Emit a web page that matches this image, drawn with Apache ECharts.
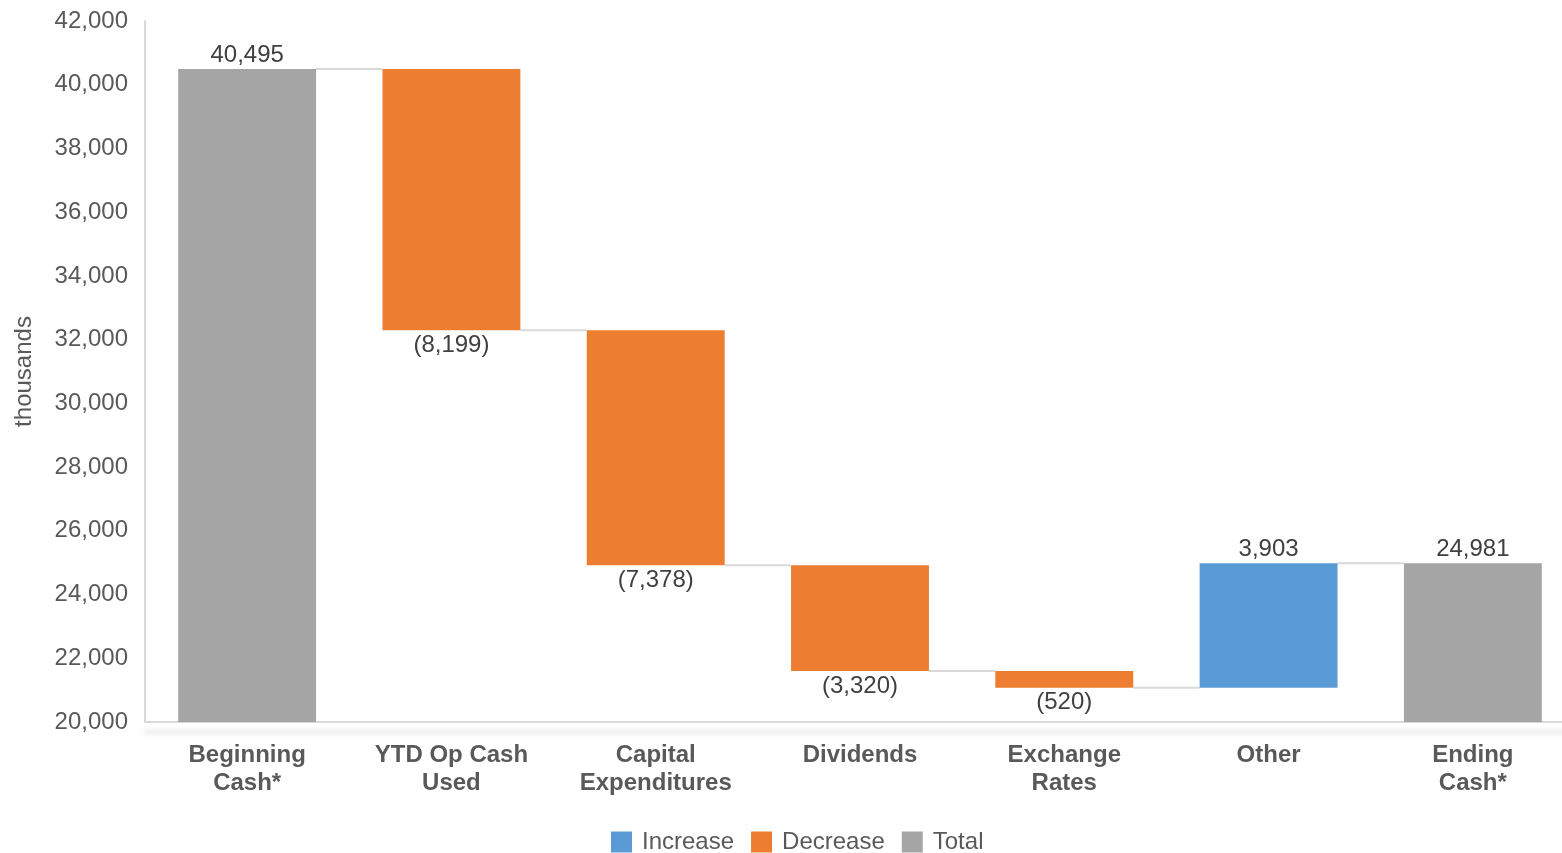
<!DOCTYPE html>
<html>
<head>
<meta charset="utf-8">
<script src="https://cdn.jsdelivr.net/npm/echarts@6/dist/echarts.min.js"></script>
<style>html,body{margin:0;padding:0;background:#fff}#c{width:1562px;height:853px}</style>
</head>
<body>
<div id="c"></div>
<script>
var categories = ['Beginning\nCash*', 'YTD Op Cash\nUsed', 'Capital\nExpenditures', 'Dividends', 'Exchange\nRates', 'Other', 'Ending\nCash*'];
var changes = [40495, -8199, -7378, -3320, -520, 3903, 24981];
var kinds = ['total', 'dec', 'dec', 'dec', 'dec', 'inc', 'total'];
var yTicks = { min: 20000, max: 42000, interval: 2000 };

var base = [], incData = [], decData = [], totData = [], levels = [];
var running = 0;
for (var i = 0; i < changes.length; i++) {
  var v = changes[i], k = kinds[i];
  if (k === 'total') {
    running = v;
    base.push(0); totData.push(v); incData.push('-'); decData.push('-');
  } else if (k === 'inc') {
    base.push(running); incData.push(v); decData.push('-'); totData.push('-');
    running += v;
  } else {
    running += v;
    base.push(running); decData.push(-v); incData.push('-'); totData.push('-');
  }
  levels.push(running);
}
var connectors = [];
for (var j = 0; j < levels.length - 1; j++) connectors.push([j, levels[j]]);

function fmt(n) { return n.toString().replace(/\B(?=(\d{3})+(?!\d))/g, ','); }
var BW = 0.675;
var FS = 24;
var font = 'Liberation Sans, Arial, sans-serif';
var chart = echarts.init(document.getElementById('c'));
chart.setOption({
  animation: false,
  textStyle: { fontFamily: font },
  grid: { left: 145, top: 21, width: 1430, bottom: 131, containLabel: false, outerBoundsMode: 'none' },
  legend: {
    data: ['Increase', 'Decrease', 'Total'],
    left: 611, top: 830, padding: 0, itemWidth: 21, itemHeight: 21, itemGap: 17, icon: 'rect',
    textStyle: { fontSize: FS, color: '#595959', fontFamily: font, padding: [0, 0, 0, 5] }
  },
  xAxis: {
    type: 'category', data: categories,
    axisLine: { lineStyle: { color: '#d9d9d9', width: 2, shadowColor: 'rgba(0,0,0,0.18)', shadowBlur: 5, shadowOffsetY: 10 } },
    axisTick: { show: false },
    axisLabel: { fontSize: FS, fontWeight: 'bold', color: '#595959', lineHeight: 28, margin: 19, interval: 0 }
  },
  yAxis: {
    type: 'value', min: yTicks.min, max: yTicks.max, interval: yTicks.interval,
    name: 'thousands', nameLocation: 'middle', nameGap: 109, nameRotate: 90,
    nameTextStyle: { fontSize: FS, color: '#595959' },
    axisLine: { show: true, lineStyle: { color: '#d9d9d9', width: 2 } },
    axisTick: { show: false },
    splitLine: { show: false },
    axisLabel: { fontSize: FS, color: '#595959', margin: 17, formatter: function (v) { return fmt(v); } }
  },
  series: [
    { name: 'base', type: 'bar', stack: 'w', data: base, barWidth: (BW * 100) + '%', itemStyle: { color: 'transparent' }, silent: true },
    { name: 'Increase', type: 'bar', stack: 'w', data: incData, itemStyle: { color: '#5B9BD5' },
      label: { show: true, position: 'top', distance: 2, fontSize: FS, color: '#404040', formatter: function (p) { return fmt(p.value); } } },
    { name: 'Decrease', type: 'bar', stack: 'w', data: decData, itemStyle: { color: '#ED7D31' },
      label: { show: true, position: 'bottom', distance: 3, fontSize: FS, color: '#404040', formatter: function (p) { return '(' + fmt(p.value) + ')'; } } },
    { name: 'Total', type: 'bar', stack: 'w', data: totData, itemStyle: { color: '#A5A5A5' },
      label: { show: true, position: 'top', distance: 2, fontSize: FS, color: '#404040', formatter: function (p) { return fmt(p.value); } } },
    { name: 'connectors', type: 'custom', data: connectors, silent: true, z: 1,
      renderItem: function (params, api) {
        var p = api.coord([api.value(0), api.value(1)]);
        var w = api.size([1, 0])[0];
        var bw = w * BW;
        return { type: 'line', shape: { x1: p[0] + bw / 2, y1: p[1], x2: p[0] + w - bw / 2, y2: p[1] },
          style: { stroke: '#d9d9d9', lineWidth: 2 } };
      } }
  ]
});
</script>
</body>
</html>
